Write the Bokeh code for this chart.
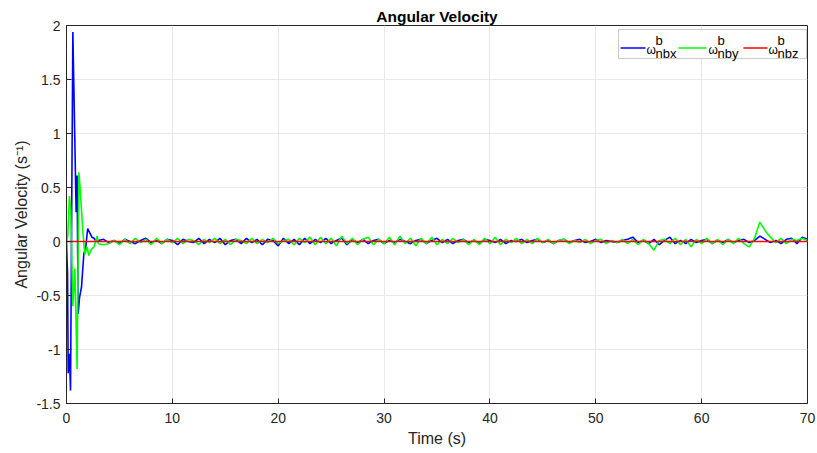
import numpy as np
from bokeh.plotting import figure
from bokeh.models import (Range1d, FixedTicker, CustomJSTickFormatter, BoxAnnotation,
                          Arrow, Label)
from bokeh.embed import file_html
from bokeh.resources import INLINE

# ---------------- data ----------------
# transient part (start-up)
t_x_trans = [0.0, 0.06, 0.1, 0.16, 0.22, 0.28, 0.38, 0.6, 0.91, 1.0, 1.1, 1.23, 1.42,
             1.64, 1.8, 2.0, 2.2, 2.4, 2.6, 2.8, 3.0]
wx_trans = [0.0, -0.2, -0.3, -1.22, -1.1, -1.04, -1.38, 1.94, 0.27, 0.61, -0.67, -0.52,
            -0.42, -0.11, -0.07, 0.12, 0.08, 0.04, 0.03, 0.0, 0.01]

t_y_trans = [0.0, 0.12, 0.28, 0.4, 0.6, 0.79, 1.0, 1.17, 1.32, 1.54, 1.73, 1.95, 2.1,
             2.36, 2.6, 2.9, 3.0]
wy_trans = [0.0, 0.05, 0.42, 0.3, -0.6, -0.25, -1.18, 0.64, 0.45, 0.1, -0.12, -0.05,
            -0.13, -0.07, -0.05, 0.05, -0.02]

# steady-state part, sampled every 0.5 s from 3.5 s to 70 s
t_steady = np.arange(3.5, 70.01, 0.5)
wx_steady = [
    0.02, -0.01, 0.01, -0.02, 0.02, 0.00, -0.02, 0.01, 0.03, -0.01,
    0.01, -0.02, 0.02, 0.01, -0.03, 0.02, 0.00, -0.01, 0.03, -0.02,
    0.02, -0.01, 0.03, -0.03, 0.01, 0.02, -0.02, 0.03, -0.01, 0.02,
    -0.03, 0.02, 0.01, -0.04, 0.03, -0.02, 0.02, -0.03, 0.03, -0.02,
    0.02, -0.01, 0.03, -0.02, 0.01, 0.03, -0.03, 0.02, -0.01, 0.02,
    -0.02, 0.01, 0.02, -0.02, 0.01, -0.01, 0.02, 0.00, -0.02, 0.01,
    0.02, -0.02, 0.01, 0.03, -0.01, 0.02, -0.02, 0.01, 0.02, -0.01,
    0.01, -0.02, 0.02, 0.01, -0.01, 0.02, -0.02, 0.01, 0.00, 0.02,
    -0.01, 0.01, 0.02, -0.01, 0.01, -0.02, 0.01, 0.02, -0.01, 0.01,
    0.02, -0.01, 0.00, 0.02, -0.01, 0.01, 0.00, -0.01, 0.01, 0.02,
    0.04, -0.01, 0.01, -0.02, 0.02, -0.03, 0.01, 0.04, -0.02, 0.01,
    -0.02, 0.02, -0.01, 0.01, 0.02, -0.02, 0.01, -0.01, 0.02, -0.01,
    0.01, 0.02, -0.01, 0.01, 0.05, 0.02, -0.01, 0.01, -0.02, 0.02,
    0.03, -0.02, 0.04, 0.02,
]
wy_steady = [
    -0.03, -0.02, 0.01, -0.03, 0.02, -0.02, 0.03, -0.01, 0.02, -0.03,
    0.03, -0.02, 0.02, -0.01, 0.03, -0.02, 0.02, 0.01, -0.03, 0.02,
    -0.01, 0.03, -0.02, 0.02, -0.03, 0.02, 0.01, -0.02, 0.03, -0.02,
    0.02, -0.01, 0.03, -0.02, 0.01, 0.02, -0.03, 0.03, -0.01, 0.04,
    -0.03, 0.04, -0.02, 0.03, -0.04, 0.05, -0.02, 0.03, -0.03, 0.02,
    0.04, -0.03, 0.02, -0.02, 0.04, -0.03, 0.05, -0.02, 0.03, -0.04,
    0.03, -0.02, 0.04, -0.03, 0.02, -0.02, 0.03, -0.01, 0.02, -0.03,
    0.02, -0.03, 0.03, -0.02, 0.04, -0.03, 0.02, -0.01, 0.03, -0.02,
    0.02, -0.02, 0.03, -0.01, 0.02, -0.02, 0.01, 0.02, -0.02, 0.01,
    -0.01, 0.02, -0.02, 0.01, 0.02, -0.02, 0.01, -0.01, 0.02, -0.02,
    0.02, -0.03, 0.02, -0.02, -0.08, 0.01, 0.02, -0.02, 0.03, -0.03,
    0.02, -0.05, 0.02, -0.02, 0.03, -0.02, 0.02, -0.03, 0.02, -0.02,
    0.03, -0.02, -0.05, 0.03, 0.18, 0.10, 0.04, -0.01, 0.03, -0.02,
    0.02, 0.01, 0.03, 0.01,
]

t_z = [0.0, 70.0]
wz = [0.0, 0.0]

x_ticks = [0, 10, 20, 30, 40, 50, 60, 70]
y_ticks = [-1.5, -1, -0.5, 0, 0.5, 1, 1.5, 2]

t_x = list(t_x_trans) + list(t_steady)
wx = list(wx_trans) + list(wx_steady)
t_y = list(t_y_trans) + list(t_steady)
wy = list(wy_trans) + list(wy_steady)

# ---------------- figure ----------------
FONT = "Liberation Sans"
AX = "#262626"

p = figure(width=817, height=453, output_backend="svg", toolbar_location=None,
           x_range=Range1d(0, 70), y_range=Range1d(-1.5, 2),
           min_border_left=66, min_border_right=10, min_border_top=25,
           min_border_bottom=50)

p.title.text = "Angular Velocity"
p.title.align = "center"
p.title.text_font = FONT
p.title.text_font_size = "15.5px"
p.title.text_font_style = "bold"
p.title.text_color = "#000000"
p.title.standoff = 2

p.background_fill_color = "white"
p.border_fill_color = "white"
p.outline_line_color = AX
p.outline_line_width = 1

for ax in (p.xaxis[0], p.yaxis[0]):
    ax.axis_line_color = AX
    ax.major_tick_line_color = AX
    ax.major_tick_in = 5
    ax.major_tick_out = 0
    ax.minor_tick_line_color = None
    ax.major_label_text_font = FONT
    ax.major_label_text_font_size = "14px"
    ax.major_label_text_color = AX
    ax.axis_label_text_font = FONT
    ax.axis_label_text_font_size = "16px"
    ax.axis_label_text_font_style = "normal"
    ax.axis_label_text_color = AX
    ax.formatter = CustomJSTickFormatter(code="return tick.toString();")

p.xaxis.ticker = FixedTicker(ticks=x_ticks)
p.yaxis.ticker = FixedTicker(ticks=y_ticks)
p.xaxis.major_label_standoff = 9
p.yaxis.major_label_standoff = 6
p.xaxis.axis_label = "Time (s)"
p.yaxis.axis_label = "Angular Velocity (s\u207b\u00b9)"
p.xaxis.axis_label_standoff = 4
p.yaxis.axis_label_standoff = 3

p.grid.grid_line_color = "#e8e8e8"
p.grid.grid_line_width = 1

p.line(t_x, wx, line_color="#0000ff", line_width=1.6)
p.line(t_y, wy, line_color="#00ff00", line_width=1.6)
p.line(t_z, wz, line_color="#ff0000", line_width=1.4)

# ---------------- legend (manual, for sub/superscripts) ----------------
p.add_layout(BoxAnnotation(left=52.15, right=69.91, top=1.963, bottom=1.694,
                           fill_color="white", fill_alpha=1.0,
                           line_color=AX, line_width=0.8, level="overlay"))

legend_items = [
    ("#0000ff", 52.34, 54.70, 54.79, "nbx"),
    ("#00ff00", 57.81, 60.46, 60.65, "nby"),
    ("#ff0000", 63.95, 66.22, 66.32, "nbz"),
]
for col, x0, x1, xw, sub in legend_items:
    p.add_layout(Arrow(end=None, x_start=x0, y_start=1.792, x_end=x1, y_end=1.792,
                       line_color=col, line_width=1.6, level="overlay"))
    p.add_layout(Label(x=xw, y=1.772, text="\u03c9", text_font=FONT,
                       text_font_size="12px", text_baseline="middle",
                       text_color="#000000", level="overlay"))
    p.add_layout(Label(x=xw + 0.85, y=1.862, text="b", text_font=FONT,
                       text_font_size="13px", text_baseline="middle",
                       text_color="#000000", level="overlay"))
    p.add_layout(Label(x=xw + 0.85, y=1.745, text=sub, text_font=FONT,
                       text_font_size="13px", text_baseline="middle",
                       text_color="#000000", level="overlay"))

open("out.html", "w").write(file_html(p, INLINE))
